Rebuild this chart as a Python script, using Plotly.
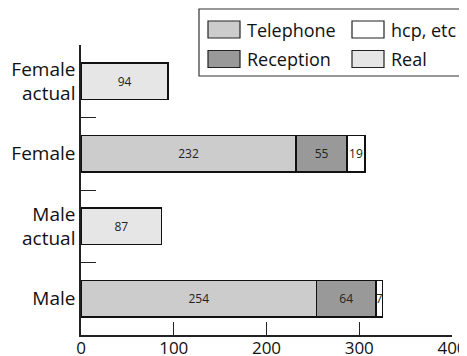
import plotly.graph_objects as go

categories = ["Male", "Male<br>actual", "Female", "Female<br>actual"]
telephone = [254, None, 232, None]
reception = [64, None, 55, None]
hcp = [7, None, 19, None]
real = [None, 87, None, 94]
x_ticks = [0, 100, 200, 300, 400]

series = [
    ("Telephone", telephone, "#cccccc"),
    ("Reception", reception, "#999999"),
    ("hcp, etc", hcp, "#ffffff"),
    ("Real", real, "#e6e6e6"),
]

FONT = "Open Sans"
fig = go.Figure()
for name, vals, col in series:
    fig.add_trace(go.Bar(
        y=categories, x=vals, name=name, orientation="h",
        marker=dict(color=col, line=dict(color="#111111", width=1.5)),
        text=[("" if v is None else str(v)) for v in vals],
        textposition="inside", insidetextanchor="middle", textangle=0,
        textfont=dict(size=12, color="#222222", family=FONT),
        showlegend=False, hoverinfo="skip",
    ))

# page body has an 8px margin; the figure is placed at (8, 8)
OFF = 8
W, H = 467 - OFF, 356 - OFF
L, R, T, B = 81 - OFF, 15, 45 - OFF, 21
pw, ph = W - L - R, H - T - B

def px2x(px):
    return (px - OFF - L) / pw

def py2y(py):
    return (H - B - (py - OFF)) / ph

shapes = [dict(type="rect", xref="paper", yref="paper",
               x0=px2x(199), x1=px2x(466), y0=py2y(76), y1=py2y(9),
               line=dict(color="#333333", width=1.2), fillcolor="white", layer="above")]
annotations = []
legend_items = [
    ("Telephone", "#cccccc", 208, 29.5),
    ("Reception", "#999999", 208, 59),
    ("hcp, etc", "#ffffff", 352, 29.5),
    ("Real", "#e6e6e6", 352, 59),
]
for name, col, sx, cy in legend_items:
    shapes.append(dict(type="rect", xref="paper", yref="paper",
                       x0=px2x(sx), x1=px2x(sx + 32), y0=py2y(cy + 8.5), y1=py2y(cy - 8.5),
                       line=dict(color="#222222", width=1.2), fillcolor=col, layer="above"))
    annotations.append(dict(xref="paper", yref="paper", x=px2x(sx + 37), y=py2y(cy),
                            text=name, showarrow=False, xanchor="left", yanchor="middle",
                            font=dict(size=18, color="#111111", family=FONT)))

fig.update_layout(
    barmode="stack", bargap=0.5,
    width=W, height=H,
    margin=dict(l=L, r=R, t=T, b=B, autoexpand=False),
    plot_bgcolor="white", paper_bgcolor="white",
    font=dict(family=FONT, size=18, color="#111111"),
    uniformtext=dict(minsize=12, mode="show"),
    shapes=shapes, annotations=annotations,
    xaxis=dict(range=[0, 400], tickvals=x_ticks, ticks="inside", ticklen=13,
               tickcolor="#222222", tickwidth=1.2, showline=True, linecolor="#222222",
               linewidth=1.5, showgrid=False, zeroline=False, automargin=False,
               ticklabeloverflow="allow", ticklabelstandoff=-3,
               tickfont=dict(size=17, family=FONT)),
    yaxis=dict(categoryorder="array", categoryarray=categories, range=[-0.5, 3.5],
               tickson="boundaries", ticks="inside", ticklen=15, tickcolor="#222222",
               tickwidth=1.2, showline=True, linecolor="#222222", linewidth=1.5,
               showgrid=False, zeroline=False, automargin=False,
               tickfont=dict(size=19, family=FONT)),
)

fig.write_html("out.html")
